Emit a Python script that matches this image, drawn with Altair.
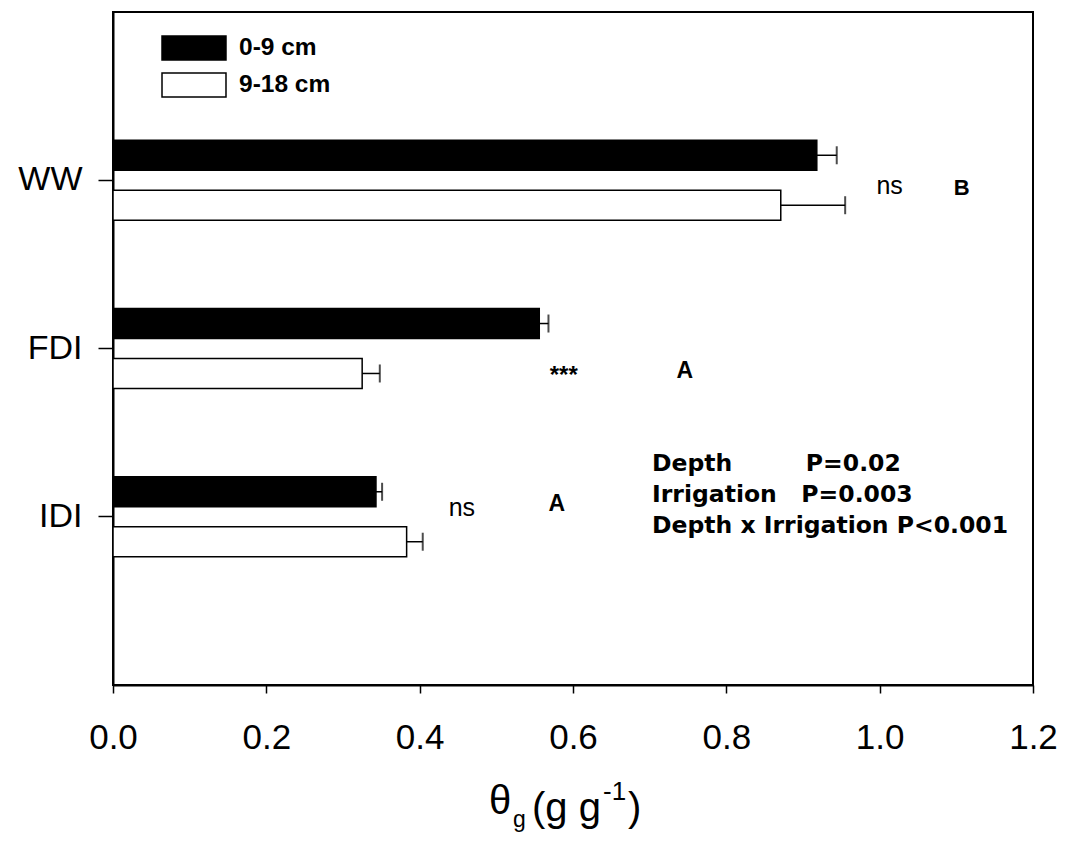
import altair as alt
import pandas as pd

# ---- data ----
categories = ["WW", "FDI", "IDI"]
depths = ["0-9 cm", "9-18 cm"]
mean_0_9 = [0.918, 0.556, 0.343]
mean_9_18 = [0.871, 0.325, 0.383]
se_0_9 = [0.026, 0.012, 0.008]
se_9_18 = [0.084, 0.023, 0.021]

ann_text = ["ns", "B", "***", "A", "ns", "A"]
ann_cat = ["WW", "WW", "FDI", "FDI", "IDI", "IDI"]
ann_x = [1.013, 1.107, 0.588, 0.746, 0.455, 0.579]

stats_lines = [
    "Depth" + "\u00a0" * 9 + "P=0.02",
    "Irrigation" + "\u00a0" * 3 + "P=0.003",
    "Depth x Irrigation P<0.001",
]
x_ticks = [0.0, 0.2, 0.4, 0.6, 0.8, 1.0, 1.2]

# ---- tables ----
rows = []
for i, c in enumerate(categories):
    rows.append({"cat": c, "depth": depths[0], "mean": mean_0_9[i], "hi": mean_0_9[i] + se_0_9[i]})
    rows.append({"cat": c, "depth": depths[1], "mean": mean_9_18[i], "hi": mean_9_18[i] + se_9_18[i]})
df = pd.DataFrame(rows)

# styles for annotations (kept separate from data)
ann_style = [
    dict(dy=6, fontSize=25, fontWeight="normal"),
    dict(dy=8, fontSize=22, fontWeight="bold"),
    dict(dy=27, fontSize=24, fontWeight="bold"),
    dict(dy=22, fontSize=23, fontWeight="bold"),
    dict(dy=-9, fontSize=25, fontWeight="normal"),
    dict(dy=-13, fontSize=23, fontWeight="bold"),
]

FONT = "Liberation Sans"

y_enc = alt.Y(
    "cat:N",
    sort=categories,
    scale=alt.Scale(domain=categories, paddingInner=0.525, paddingOuter=0.7625),
    axis=alt.Axis(
        title=None,
        labelFont=FONT,
        labelFontSize=34,
        labelPadding=16,
        tickSize=15,
        labelColor="black",
    ),
)
yoff_enc = alt.YOffset(
    "depth:N",
    sort=depths,
    scale=alt.Scale(domain=depths, paddingInner=0.4, paddingOuter=0),
)
x_scale = alt.Scale(domain=[0, 1.2], nice=False, zero=True)
x_enc = alt.X(
    "mean:Q",
    scale=x_scale,
    axis=alt.Axis(
        title=None,
        values=x_ticks,
        format=".1f",
        labelFont=FONT,
        labelFontSize=35,
        labelPadding=27,
        tickSize=8,
        labelFlush=False,
        labelColor="black",
        grid=False,
    ),
)

legend = alt.Legend(
    title=None,
    orient="none",
    legendX=61,
    legendY=16,
    padding=0,
    symbolType="M-1.684,-0.632H1.684V0.632H-1.684Z",
    symbolSize=1444,
    symbolStrokeColor="black",
    symbolStrokeWidth=1.5,
    symbolOpacity=1,
    labelFont=FONT,
    labelFontSize=24.5,
    labelFontWeight="bold",
    labelOffset=25,
    labelColor="black",
    rowPadding=1,
)

base = alt.Chart(df)

bars = base.mark_bar(stroke="black", strokeWidth=1.5, opacity=1).encode(
    y=y_enc,
    yOffset=yoff_enc,
    x=x_enc,
    fill=alt.Fill("depth:N", scale=alt.Scale(domain=depths, range=["black", "white"]), legend=legend),
)

err_rule = base.mark_rule(color="black", strokeWidth=1.5).encode(
    y=y_enc,
    yOffset=yoff_enc,
    x=alt.X("mean:Q", scale=x_scale),
    x2="hi:Q",
)

err_cap = base.mark_tick(color="black", thickness=2, size=18, orient="vertical").encode(
    y=y_enc,
    yOffset=yoff_enc,
    x=alt.X("hi:Q", scale=x_scale),
)

ann_layers = []
for i in range(len(ann_text)):
    adf = pd.DataFrame({"t": [ann_text[i]], "cat": [ann_cat[i]], "x": [ann_x[i]]})
    st = ann_style[i]
    ann_layers.append(
        alt.Chart(adf)
        .mark_text(
            font=FONT,
            fontSize=st["fontSize"],
            fontWeight=st["fontWeight"],
            dy=st["dy"],
            color="black",
            align="center",
            baseline="middle",
        )
        .encode(y=y_enc, x=alt.X("x:Q", scale=x_scale), text="t:N")
    )

stats = alt.Chart(pd.DataFrame({"a": [0]})).mark_text(
    text=stats_lines,
    font="DejaVu Sans",
    fontWeight="bold",
    fontSize=23.5,
    lineHeight=31,
    align="left",
    baseline="alphabetic",
    color="black",
).encode(x=alt.value(539), y=alt.value(459))

# axis title theta_g (g g^-1) built from pieces
title_parts = [
    ("\u03b8", 376, 802, 40),
    ("g", 400, 815, 23),
    ("(g g", 419, 809, 40),
    ("-1", 490, 788, 26),
    (")", 515, 809, 40),
]
title_layers = []
for txt, px, py, fs in title_parts:
    title_layers.append(
        alt.Chart(pd.DataFrame({"a": [0]}))
        .mark_text(text=txt, font=FONT, fontSize=fs, align="left", baseline="alphabetic", color="black")
        .encode(x=alt.value(px), y=alt.value(py))
    )

chart = (
    alt.layer(bars, err_rule, err_cap, *ann_layers, stats, *title_layers)
    .properties(
        width=920,
        height=673,
        padding={"left": 105, "top": 4, "right": 24, "bottom": 148},
        autosize=alt.AutoSizeParams(type="none"),
        background="white",
    )
    .configure_view(stroke="black", strokeWidth=2)
    .configure_axis(
        domainColor="black",
        domainWidth=2,
        tickColor="black",
        tickWidth=1.5,
        grid=False,
    )
)

chart.save("out.html", embed_options={"renderer": "svg", "actions": False})
